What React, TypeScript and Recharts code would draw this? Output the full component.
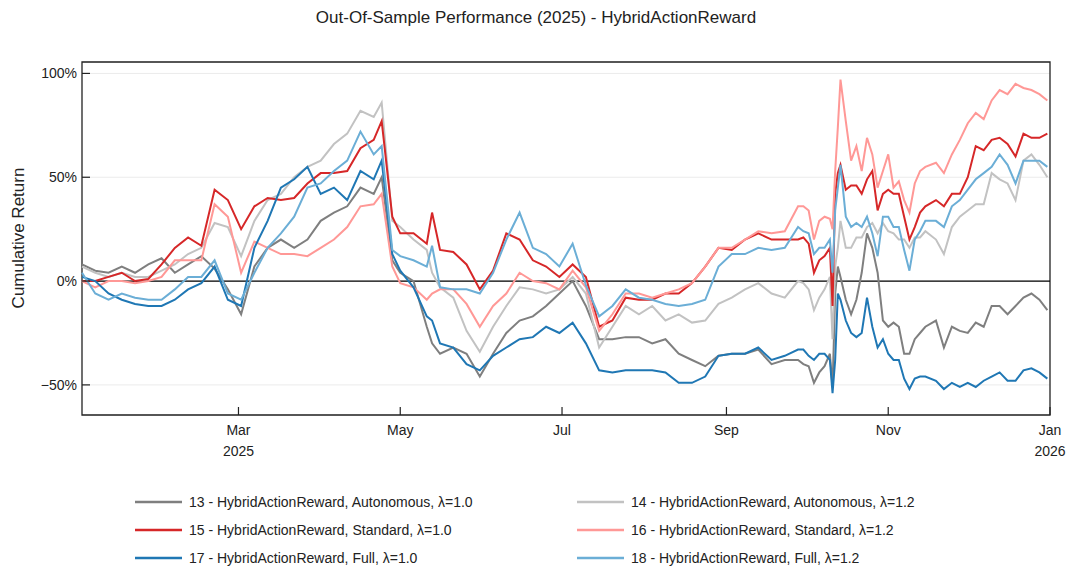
import { LineChart, Line, XAxis, YAxis, CartesianGrid, ReferenceLine, ReferenceArea } from 'recharts';

// day index since 2025-01-01 (denser around the late-April drop, the October crash and December)
const days = [
  0, 5, 10, 15, 20, 25, 30, 35, 40, 45, 50, 55, 60, 65, 70, 75, 80, 85, 90, 95, 100, 105, 110,
  113, 117, 120, 125, 130, 132, 135,
  140, 145, 150, 155, 160, 165, 170, 175, 180, 185, 190, 195, 200, 205, 210, 215, 220, 225, 230,
  235, 240, 245, 250, 255, 260, 265,
  270, 272, 274, 276, 278, 280, 282, 283, 284, 285, 286, 288, 290, 292, 294, 296, 298, 300, 302,
  304, 306, 308, 310, 312, 314, 316, 318,
  322, 325, 328, 331, 334, 337, 340, 343, 346, 349, 352, 355, 358, 361, 364,
];

// cumulative return in %
const autonomous10 = [
  8, 5, 4, 7, 4, 8, 11, 4, 8, 12, 6, -4, -16, 7, 16, 20, 16, 20, 29, 33, 36, 45, 42,
  50, 10, 4, 0, -22, -30, -35,
  -32, -35, -46, -35, -25, -19, -17, -12, -6, 0, -12, -28, -28, -27, -27, -30, -28, -35, -38,
  -41, -36, -35, -35, -33, -40, -38,
  -38, -40, -41, -49, -44, -41, -35, -51, -6, 7, 2, -9, -16, -9, 4, 23, 16, 4, -19,
  -22, -20, -22, -35, -35, -28, -25, -22,
  -19, -32, -22, -24, -25, -20, -22, -12, -12, -16, -12, -8, -6, -9, -14,
];
const autonomous12 = [
  7, 4, 2, 4, 2, 2, 5, 8, 13, 16, 28, 26, 12, 29, 39, 42, 50, 55, 58, 66, 71, 82, 79,
  86, 29, 26, 20, 15, 4, -3,
  -8, -24, -34, -22, -12, -3, -4, -6, -4, 2, -6, -32, -22, -12, -16, -12, -19, -16, -20,
  -19, -11, -8, -4, -1, -6, -8,
  0, -1, -4, -14, -8, -4, 2, -28, 7, 16, 29, 16, 16, 21, 21, 26, 28, 23, 28,
  24, 23, 20, 20, 16, 21, 21, 24,
  20, 13, 26, 31, 34, 37, 37, 52, 49, 47, 39, 58, 61, 56, 50,
];
const standard10 = [
  0, 0, 2, 4, 0, 1, 8, 16, 21, 17, 44, 39, 25, 36, 40, 39, 40, 47, 52, 52, 53, 64, 68,
  77, 31, 23, 23, 18, 33, 15,
  14, 8, -4, 5, 23, 20, 10, 7, 2, 8, 2, -22, -19, -8, -9, -9, -6, -6, -1,
  7, 16, 15, 20, 23, 20, 20,
  20, 21, 18, 4, 10, 12, 16, -12, 42, 52, 56, 44, 46, 46, 42, 49, 53, 34, 42,
  44, 42, 42, 31, 20, 26, 33, 36,
  39, 36, 42, 42, 50, 65, 63, 68, 69, 66, 60, 71, 69, 69, 71,
];
const standard12 = [
  0, -3, 0, 0, -1, 0, 2, 10, 10, 10, 37, 31, 4, 19, 16, 13, 13, 12, 16, 20, 26, 36, 37,
  42, 7, -1, -3, -9, -6, -4,
  -4, -11, -22, -12, -6, 4, 0, -1, -4, 5, -3, -24, -16, -6, -6, -8, -6, -4, -1,
  7, 16, 16, 20, 24, 23, 24,
  36, 36, 34, 20, 29, 31, 30, 25, 53, 74, 97, 77, 58, 65, 53, 69, 61, 45, 53,
  61, 45, 48, 39, 33, 47, 53, 55,
  57, 52, 61, 68, 76, 81, 78, 87, 92, 90, 95, 93, 92, 90, 87,
];
const full10 = [
  2, 0, -6, -9, -11, -12, -12, -9, -4, -1, 7, -9, -12, 16, 29, 45, 49, 55, 42, 45, 39, 53, 49,
  58, 13, 5, -3, -17, -19, -30,
  -32, -40, -43, -36, -32, -28, -27, -22, -25, -20, -30, -43, -44, -43, -43, -43, -44, -49, -49,
  -46, -36, -35, -35, -32, -38, -36,
  -33, -33, -36, -38, -35, -35, -38, -54, -38, -6, -9, -19, -25, -27, -25, -8, -22, -32, -28,
  -35, -38, -38, -47, -52, -47, -46, -46,
  -48, -52, -49, -51, -49, -51, -48, -46, -44, -48, -48, -43, -42, -44, -47,
];
const full12 = [
  4, -6, -9, -6, -8, -9, -9, -4, 2, 2, 10, -6, -9, 4, 16, 23, 31, 45, 47, 53, 58, 72, 61,
  65, 15, 12, 10, 7, 17, -3,
  -4, -4, -6, 4, 20, 33, 16, 13, 7, 18, -2, -17, -12, -4, -8, -9, -11, -12, -11,
  -9, 7, 13, 13, 16, 15, 16,
  26, 24, 23, 13, 16, 16, 20, 4, 34, 45, 56, 31, 26, 28, 26, 31, 23, 12, 31,
  31, 26, 26, 15, 5, 20, 24, 29,
  29, 26, 36, 39, 44, 49, 52, 55, 61, 56, 47, 58, 58, 58, 55,
];

const tickDays = [59, 120, 181, 243, 304, 365];
const tickMonths = ['Mar', 'May', 'Jul', 'Sep', 'Nov', 'Jan'];
const tickYears = ['2025', '', '', '', '', '2026'];
const yTicks = [-50, 0, 50, 100];

const series = [
  { key: 's13', name: '13 - HybridActionReward, Autonomous, λ=1.0', color: '#7f7f7f', values: autonomous10 },
  { key: 's14', name: '14 - HybridActionReward, Autonomous, λ=1.2', color: '#c2c2c2', values: autonomous12 },
  { key: 's15', name: '15 - HybridActionReward, Standard, λ=1.0', color: '#d62728', values: standard10 },
  { key: 's16', name: '16 - HybridActionReward, Standard, λ=1.2', color: '#ff9896', values: standard12 },
  { key: 's17', name: '17 - HybridActionReward, Full, λ=1.0', color: '#1f77b4', values: full10 },
  { key: 's18', name: '18 - HybridActionReward, Full, λ=1.2', color: '#6baed6', values: full12 },
];

const data = days.map((day, i) => {
  const row: Record<string, number> = { day };
  series.forEach((s) => {
    row[s.key] = s.values[i];
  });
  return row;
});

const FONT = '"Liberation Sans", Arial, sans-serif';
const INK = '#222';

const XTick = (props: any) => {
  const { x, y, payload } = props;
  const i = tickDays.indexOf(payload.value);
  return (
    <g>
      <line x1={x} x2={x} y1={y} y2={y - 8} stroke={INK} strokeWidth={1.2} />
      <text x={x} y={y + 20} textAnchor="middle" fontSize={14} fill={INK} fontFamily={FONT}>
        {tickMonths[i]}
      </text>
      {tickYears[i] && (
        <text x={x} y={y + 41} textAnchor="middle" fontSize={14} fill={INK} fontFamily={FONT}>
          {tickYears[i]}
        </text>
      )}
    </g>
  );
};

const YTick = (props: any) => {
  const { x, y, payload } = props;
  const v = payload.value;
  const label = (v < 0 ? '\u2212' + Math.abs(v) : String(v)) + '%';
  return (
    <g>
      <line x1={x} x2={x + 8} y1={y} y2={y} stroke={INK} strokeWidth={1.2} />
      <text x={x - 5} y={y} dy="0.35em" textAnchor="end" fontSize={14} fill={INK} fontFamily={FONT}>
        {label}
      </text>
    </g>
  );
};

export default function App() {
  return (
    <div style={{ position: 'absolute', left: 0, top: 0, width: 1072, height: 571, background: '#fff', fontFamily: FONT }}>
      <LineChart width={1072} height={571} data={data} margin={{ top: 62, right: 22, bottom: 106, left: 0 }}>
        <CartesianGrid horizontal vertical={false} stroke="#ebebeb" strokeWidth={1} />
        <XAxis
          dataKey="day"
          type="number"
          domain={[0, 365]}
          ticks={tickDays}
          tick={<XTick />}
          tickLine={false}
          axisLine={false}
          tickSize={0}
          tickMargin={0}
          height={50}
          interval={0}
        />
        <YAxis
          type="number"
          domain={[-64.5, 105.5]}
          ticks={yTicks}
          tick={<YTick />}
          tickLine={false}
          axisLine={false}
          tickSize={0}
          tickMargin={0}
          width={82}
          allowDataOverflow
          interval={0}
        />
        <ReferenceLine y={0} stroke="#000" strokeWidth={1.2} />
        {series.map((s) => (
          <Line
            key={s.key}
            dataKey={s.key}
            name={s.name}
            stroke={s.color}
            strokeWidth={2}
            dot={false}
            type="linear"
            isAnimationActive={false}
          />
        ))}
        <ReferenceArea x1={0} x2={365} y1={-64.5} y2={105.5} fill="none" stroke={INK} strokeWidth={1.3} ifOverflow="visible" />
      </LineChart>
      <svg width={1072} height={571} style={{ position: 'absolute', left: 0, top: 0, pointerEvents: 'none' }}>
        <text x={536} y={23} textAnchor="middle" fontSize={17} fill={INK} fontFamily={FONT}>
          Out-Of-Sample Performance (2025) - HybridActionReward
        </text>
        <text
          x={0}
          y={0}
          transform="translate(24 238) rotate(-90)"
          textAnchor="middle"
          fontSize={17}
          fill={INK}
          fontFamily={FONT}
        >
          Cumulative Return
        </text>
        {series.map((s, i) => {
          const col = i % 2;
          const row = Math.floor(i / 2);
          const lx = col === 0 ? 135 : 577;
          const cy = 502 + row * 28;
          return (
            <g key={s.key}>
              <line x1={lx} x2={lx + 47} y1={cy} y2={cy} stroke={s.color} strokeWidth={2.5} />
              <text x={lx + 54} y={cy + 5} fontSize={14} fill={INK} fontFamily={FONT}>
                {s.name}
              </text>
            </g>
          );
        })}
      </svg>
    </div>
  );
}
